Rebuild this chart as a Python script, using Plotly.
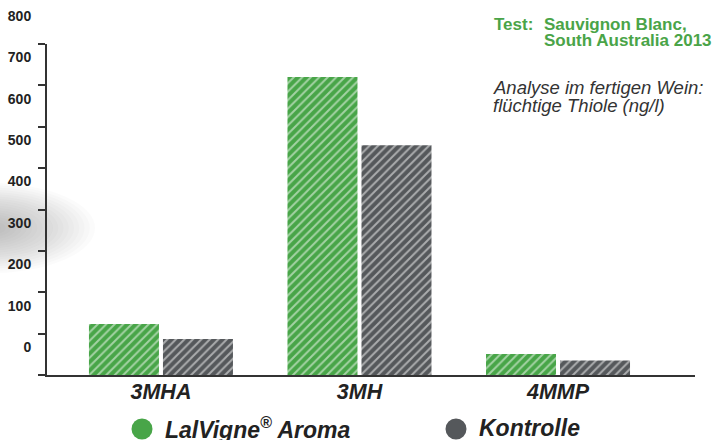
import plotly.graph_objects as go

categories = ["3MHA", "3MH", "4MMP"]
lalvigne = [123, 720, 51]
kontrolle = [87, 555, 35]
ytick_vals = [0, 100, 200, 300, 400, 500, 600, 700, 800]
ytick_text = ["0", "100", "200", "300", "400", "500", "600", "700", "800"]
series_names = ["LalVigne<sup>®</sup> Aroma", "Kontrolle"]

GREEN = "#48a548"
GRAY = "#55585b"
TITLE_GREEN = "#4aa448"
FONT = "Liberation Sans, Arial, sans-serif"

L, R, T, B, W, H = 47, 18, 44, 65, 713, 440
PW, PH = W - L - R, H - T - B


def px(xp):
    return (xp - L) / PW


def py(yp):
    return (H - B - yp) / PH


fig = go.Figure()

# decorative soft shadow on the left
n = 20
for i in range(n):
    f = 1 - i / n
    rx, ry = 105 * f, 45 * f
    cx, cy = -10, 228
    fig.add_shape(type="circle", xref="paper", yref="paper",
                  x0=px(cx - rx), x1=px(cx + rx),
                  y0=py(cy + ry), y1=py(cy - ry),
                  fillcolor="#777777", opacity=0.032, line_width=0, layer="below")

fig.add_trace(go.Bar(
    x=categories, y=lalvigne, name=series_names[0], showlegend=False,
    width=0.3526, offset=-0.3627,
    marker=dict(color=GREEN, line_width=0,
                pattern=dict(shape="/", fgcolor="white", size=6, solidity=0.33, fillmode="overlay")),
))
fig.add_trace(go.Bar(
    x=categories, y=kontrolle, name=series_names[1], showlegend=False,
    width=0.3526, offset=0.0101,
    marker=dict(color=GRAY, line_width=0,
                pattern=dict(shape="/", fgcolor="white", size=6, solidity=0.33, fillmode="overlay")),
))

fig.update_layout(
    width=W, height=H,
    margin=dict(l=L, r=R, t=T, b=B, autoexpand=False),
    plot_bgcolor="white", paper_bgcolor="white",
    barmode="group", showlegend=False,
    font=dict(family=FONT, color="#222"),
    xaxis=dict(range=[-0.574, 2.690], showline=True, linewidth=2, linecolor="#333",
               showgrid=False, zeroline=False, ticks="", automargin=False,
               ticklabelstandoff=-4,
               tickfont=dict(family=FONT, size=21.5, weight="bold", style="italic", color="#222")),
    yaxis=dict(range=[0, 800], tickvals=ytick_vals, ticktext=ytick_text, automargin=False,
               showline=True, linewidth=2, linecolor="#333", showgrid=False, zeroline=False,
               ticks="outside", ticklen=7, tickwidth=2, tickcolor="#333",
               ticklabelshift=-28, ticklabelstandoff=4,
               tickfont=dict(family=FONT, size=14, weight="bold", color="#222")),
)

# legend (circles + labels)
legend_x = [142, 456]
for name, col, cx in zip(series_names, [GREEN, GRAY], legend_x):
    fig.add_shape(type="circle", xref="paper", yref="paper",
                  x0=px(cx - 10.5), x1=px(cx + 10.5), y0=py(429 + 10.5), y1=py(429 - 10.5),
                  fillcolor=col, line_width=0)
    fig.add_annotation(xref="paper", yref="paper", x=px(cx + 21), y=py(428),
                       xanchor="left", yanchor="middle", showarrow=False, text=name,
                       font=dict(family=FONT, size=23, weight="bold", style="italic", color="#222"))

title_font = dict(family=FONT, size=17, weight="bold", color=TITLE_GREEN)
for txt, x, y in [("Test:", 492, 24), ("Sauvignon Blanc,", 542, 24), ("South Australia 2013", 542, 41)]:
    fig.add_annotation(xref="paper", yref="paper", x=px(x), y=py(y),
                       xanchor="left", yanchor="middle", showarrow=False, align="left",
                       text=txt, font=title_font)

note_font = dict(family=FONT, size=18.5, style="italic", color="#333")
for txt, y in [("Analyse im fertigen Wein:", 87, ), ("flüchtige Thiole (ng/l)", 105)]:
    fig.add_annotation(xref="paper", yref="paper", x=px(491), y=py(y),
                       xanchor="left", yanchor="middle", showarrow=False, align="left",
                       text=txt, font=note_font)

fig.write_html("out.html", config={"displayModeBar": False},
               post_script="document.body.style.margin='0';")
